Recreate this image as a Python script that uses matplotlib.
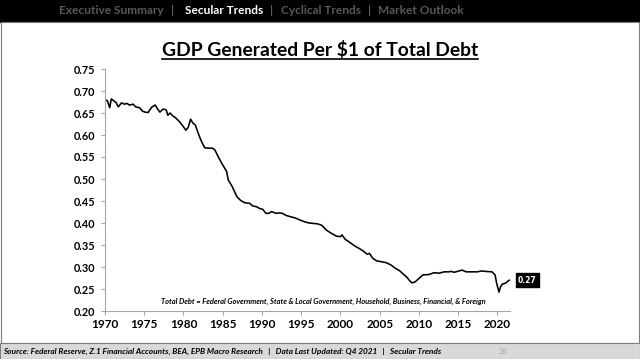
import matplotlib
matplotlib.use('Agg')
import matplotlib.pyplot as plt
from matplotlib.patches import Rectangle
from matplotlib.lines import Line2D

plt.rcParams['font.family'] = ['Lato', 'DejaVu Sans']

# Data (year, GDP per $1 of total debt)
years = [1970.0, 1970.3, 1970.6, 1970.8, 1971.1, 1971.4, 1971.7, 1972.1, 1972.5, 1972.8,
         1973.1, 1973.6, 1973.9, 1974.4, 1974.8, 1975.1, 1975.5, 1975.7, 1976.0, 1976.4,
         1976.7, 1977.0, 1977.4, 1977.8, 1978.0, 1978.3, 1978.6, 1979.0, 1979.5, 1979.9,
         1980.3, 1980.6, 1980.9, 1981.2, 1981.5, 1982.0, 1982.3, 1982.7, 1983.3, 1983.7,
         1984.0, 1984.5, 1985.0, 1985.5, 1985.7, 1986.2, 1986.8, 1987.3, 1987.8, 1988.4,
         1988.8, 1989.3, 1989.7, 1990.1, 1990.5, 1990.9, 1991.2, 1991.8, 1992.2, 1992.6,
         1993.1, 1993.7, 1994.3, 1994.8, 1995.4, 1996.0, 1996.6, 1997.1, 1997.6, 1998.2,
         1998.8, 1999.5, 2000.0, 2000.2, 2000.6, 2001.1, 2001.8, 2002.4, 2003.0, 2003.4,
         2003.7, 2004.1, 2004.6, 2005.2, 2005.8, 2006.4, 2007.0, 2007.5, 2008.0, 2008.5,
         2008.8, 2009.1, 2009.5, 2010.0, 2010.5, 2011.3, 2011.9, 2012.6, 2013.2, 2013.8,
         2014.1, 2014.5, 2015.1, 2015.5, 2016.0, 2016.6, 2017.4, 2018.0, 2018.5, 2019.3,
         2019.7, 2019.9, 2020.2, 2020.4, 2020.6, 2021.0, 2021.5]
values = [0.680, 0.678, 0.662, 0.682, 0.678, 0.674, 0.664, 0.673, 0.670, 0.672,
          0.668, 0.670, 0.664, 0.662, 0.654, 0.652, 0.651, 0.657, 0.664, 0.668,
          0.659, 0.652, 0.659, 0.657, 0.645, 0.650, 0.644, 0.639, 0.630, 0.621,
          0.611, 0.617, 0.636, 0.627, 0.623, 0.598, 0.585, 0.571, 0.570, 0.570,
          0.566, 0.548, 0.532, 0.517, 0.498, 0.483, 0.460, 0.451, 0.446, 0.445,
          0.439, 0.437, 0.433, 0.431, 0.422, 0.422, 0.426, 0.422, 0.423, 0.422,
          0.417, 0.414, 0.411, 0.407, 0.403, 0.400, 0.399, 0.398, 0.395, 0.384,
          0.377, 0.370, 0.369, 0.373, 0.363, 0.357, 0.348, 0.342, 0.335, 0.329,
          0.331, 0.320, 0.314, 0.312, 0.310, 0.305, 0.297, 0.292, 0.284, 0.276,
          0.269, 0.264, 0.266, 0.274, 0.282, 0.283, 0.287, 0.286, 0.289, 0.289,
          0.290, 0.288, 0.291, 0.293, 0.289, 0.289, 0.289, 0.291, 0.290, 0.289,
          0.282, 0.263, 0.243, 0.255, 0.261, 0.263, 0.270]
last_label = '0.27'

x_ticks = [1970, 1975, 1980, 1985, 1990, 1995, 2000, 2005, 2010, 2015, 2020]
y_ticks = [0.20, 0.25, 0.30, 0.35, 0.40, 0.45, 0.50, 0.55, 0.60, 0.65, 0.70, 0.75]

fig = plt.figure(figsize=(6.4, 3.59), dpi=100)

# slide chrome: header bar, border, footer
fig.patches.append(Rectangle((0, 1 - 23/359), 1, 23/359, transform=fig.transFigure,
                             facecolor='black', edgecolor='none', zorder=0))
fig.patches.append(Rectangle((0.5/640, 16/359), 638.5/640, (336 - 16) / 359 + 0.002,
                             transform=fig.transFigure, facecolor='none',
                             edgecolor='#7f7f7f', linewidth=0.8, zorder=0))
fig.patches.append(Rectangle((0, 0), 1, 16/359, transform=fig.transFigure,
                             facecolor='#d9d9d9', edgecolor='#7f7f7f', linewidth=0.8, zorder=0))

# header menu
hy = 1 - 11/359
menu = [('Executive Summary', 111, '#595959'), ('|', 173, '#595959'),
        ('Secular Trends', 224, 'white'), ('|', 272, '#595959'),
        ('Cyclical Trends', 321, '#595959'), ('|', 370, '#595959'),
        ('Market Outlook', 421, '#595959')]
for txt, xc, col in menu:
    fig.text(xc / 640, hy, txt, color=col, fontsize=8.6, fontweight='bold',
             ha='center', va='center')

# title with underline
title = fig.text(0.5, 1 - 50/359, 'GDP Generated Per $1 of Total Debt', fontsize=13.9,
                 fontweight='bold', ha='center', va='center', color='black')
fig.canvas.draw()
bb = title.get_window_extent()
fig.lines.append(Line2D([bb.x0 / 640, bb.x1 / 640], [1 - 59/359, 1 - 59/359],
                        transform=fig.transFigure, color='black', linewidth=1.2))

# footer text
fig.text(3/640, 8/359,
         'Source: Federal Reserve, Z.1 Financial Accounts, BEA, EPB Macro Research   |   '
         'Data Last Updated: Q4 2021   |   Secular Trends',
         fontsize=5.95, fontweight='bold', fontstyle='italic', ha='left', va='center', color='black')
fig.text(503/640, 8/359, '26', fontsize=5.5, color='#a6a6a6', ha='center', va='center')

# main chart
ax = fig.add_axes([105/640, 1 - 311/359, (510 - 105) / 640, (311 - 69) / 359])
ax.plot(years, values, color='black', linewidth=1.15)

ax.set_xlim(1970, 2021.6)
ax.set_ylim(0.20, 0.75)
ax.set_xticks(x_ticks)
ax.set_yticks(y_ticks)
ax.set_yticklabels(['%.2f' % v for v in y_ticks])
for s in ['top', 'right']:
    ax.spines[s].set_visible(False)
for s in ['left', 'bottom']:
    ax.spines[s].set_color('#a6a6a6')
    ax.spines[s].set_linewidth(0.8)
ax.tick_params(axis='both', direction='out', length=3, width=0.8, color='#a6a6a6')
ax.tick_params(axis='x', labelsize=8.5, pad=3)
ax.tick_params(axis='y', labelsize=7.8, pad=4)
for lab in ax.get_xticklabels() + ax.get_yticklabels():
    lab.set_fontweight('bold')

ax.text(0.54, 0.04,
        'Total Debt = Federal Government, State & Local Government, Household, Business, Financial, & Foreign',
        transform=ax.transAxes, fontsize=5.4, fontweight='bold', fontstyle='italic',
        ha='center', va='center')

# last value tag
ax.annotate(last_label, xy=(years[-1], values[-1]), xytext=(13, 0), textcoords='offset points',
            fontsize=5.5, fontweight='bold', color='white', ha='center', va='center',
            family='DejaVu Sans', annotation_clip=False,
            bbox=dict(boxstyle='square,pad=0.3', facecolor='black', edgecolor='black'))

fig.savefig('out.png', dpi=100)
